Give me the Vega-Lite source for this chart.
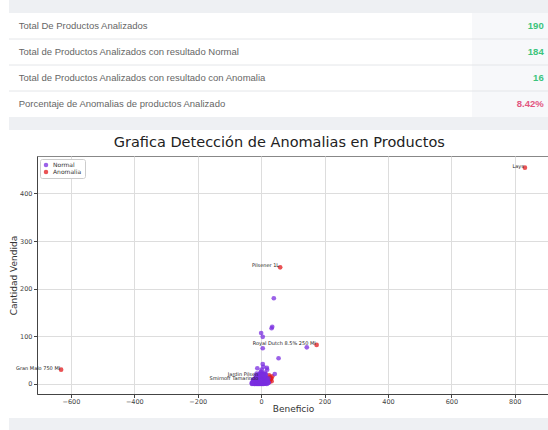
{
  "$schema": "https://vega.github.io/schema/vega-lite/v6.json",
  "background": "white",
  "padding": {"left": 8, "top": 0, "right": 0, "bottom": 0},
  "spacing": 4,
  "resolve": {"scale": {"x": "independent", "y": "independent", "color": "independent"}},
  "config": {
    "view": {"stroke": null},
    "axis": {"labelFont": "DejaVu Sans", "labelFontSize": 6.5, "labelColor": "#444", "titleFont": "DejaVu Sans", "titleFontSize": 9, "titleFontWeight": "normal", "titleColor": "#333", "gridColor": "#dddddd", "tickColor": "#444", "domainColor": "#444", "tickSize": 3.5, "labelPadding": 1.5}
  },
  "datasets": {
    "resumen": [
      {"i": 0, "label": "Total De Productos Analizados", "valor": "190", "estado": "ok"},
      {"i": 1, "label": "Total de Productos Analizados con resultado Normal", "valor": "184", "estado": "ok"},
      {"i": 2, "label": "Total de Productos Analizados con resultado con Anomalia", "valor": "16", "estado": "ok"},
      {"i": 3, "label": "Porcentaje de Anomalias de productos Analizado", "valor": "8.42%", "estado": "alerta"}
    ],
    "productos": [
      {"x": 832, "y": 454, "t": "Anomalia", "p": "Lays"},
      {"x": 60, "y": 245, "t": "Anomalia", "p": "Pilsener 1L"},
      {"x": 175, "y": 82, "t": "Anomalia", "p": "Royal Dutch 8.5% 250 Ml"},
      {"x": -631, "y": 30, "t": "Anomalia", "p": "Gran Malo 750 Ml"},
      {"x": -6, "y": 16, "t": "Anomalia", "p": "Jardin Pilsen"},
      {"x": -6, "y": 9, "t": "Anomalia", "p": "Smirnoff Tamarindo"},
      {"x": 25, "y": 18, "t": "Anomalia"},
      {"x": 28, "y": 14, "t": "Anomalia"},
      {"x": 30, "y": 10, "t": "Anomalia"},
      {"x": 27, "y": 8, "t": "Anomalia"},
      {"x": 32, "y": 12, "t": "Anomalia"},
      {"x": 22, "y": 6, "t": "Anomalia"},
      {"x": 35, "y": 16, "t": "Anomalia"},
      {"x": 20, "y": 12, "t": "Anomalia"},
      {"x": 26, "y": 4, "t": "Anomalia"},
      {"x": 33, "y": 6, "t": "Anomalia"},
      {"x": 0, "y": 107, "t": "Normal"}, {"x": 5, "y": 99, "t": "Normal"}, {"x": 33, "y": 117, "t": "Normal"}, {"x": 35, "y": 120, "t": "Normal"},
      {"x": 40, "y": 180, "t": "Normal"}, {"x": 5, "y": 75, "t": "Normal"}, {"x": 144, "y": 77, "t": "Normal"}, {"x": 55, "y": 54, "t": "Normal"},
      {"x": 5, "y": 42, "t": "Normal"}, {"x": 7, "y": 36, "t": "Normal"}, {"x": -12, "y": 33, "t": "Normal"}, {"x": 18, "y": 34, "t": "Normal"},
      {"x": 43, "y": 21, "t": "Normal"}, {"x": -2, "y": 24, "t": "Normal"}, {"x": 19, "y": 30, "t": "Normal"}, {"x": 0, "y": 26, "t": "Normal"},
      {"x": -28, "y": 1, "t": "Normal"}, {"x": -25, "y": 1, "t": "Normal"}, {"x": -22, "y": 0, "t": "Normal"}, {"x": -20, "y": 1, "t": "Normal"},
      {"x": -18, "y": 2, "t": "Normal"}, {"x": -16, "y": 0, "t": "Normal"}, {"x": -14, "y": 1, "t": "Normal"}, {"x": -12, "y": 0, "t": "Normal"},
      {"x": -10, "y": 1, "t": "Normal"}, {"x": -8, "y": 0, "t": "Normal"}, {"x": -6, "y": 1, "t": "Normal"}, {"x": -4, "y": 0, "t": "Normal"},
      {"x": -2, "y": 1, "t": "Normal"}, {"x": 0, "y": 0, "t": "Normal"}, {"x": 2, "y": 1, "t": "Normal"}, {"x": 4, "y": 0, "t": "Normal"},
      {"x": 6, "y": 1, "t": "Normal"}, {"x": 8, "y": 0, "t": "Normal"}, {"x": 10, "y": 1, "t": "Normal"}, {"x": 12, "y": 2, "t": "Normal"},
      {"x": 15, "y": 1, "t": "Normal"}, {"x": 18, "y": 0, "t": "Normal"},
      {"x": -27, "y": 3, "t": "Normal"}, {"x": -24, "y": 3, "t": "Normal"}, {"x": -21, "y": 4, "t": "Normal"}, {"x": -17, "y": 3, "t": "Normal"},
      {"x": -13, "y": 3, "t": "Normal"}, {"x": -9, "y": 4, "t": "Normal"}, {"x": -5, "y": 3, "t": "Normal"}, {"x": -1, "y": 3, "t": "Normal"},
      {"x": 3, "y": 4, "t": "Normal"}, {"x": 7, "y": 3, "t": "Normal"}, {"x": 11, "y": 3, "t": "Normal"}, {"x": 14, "y": 4, "t": "Normal"},
      {"x": 17, "y": 3, "t": "Normal"},
      {"x": -26, "y": 5, "t": "Normal"}, {"x": -23, "y": 6, "t": "Normal"}, {"x": -19, "y": 5, "t": "Normal"}, {"x": -15, "y": 6, "t": "Normal"},
      {"x": -11, "y": 5, "t": "Normal"}, {"x": -7, "y": 6, "t": "Normal"}, {"x": -3, "y": 5, "t": "Normal"}, {"x": 1, "y": 6, "t": "Normal"},
      {"x": 5, "y": 5, "t": "Normal"}, {"x": 9, "y": 6, "t": "Normal"}, {"x": 13, "y": 5, "t": "Normal"}, {"x": 16, "y": 6, "t": "Normal"},
      {"x": 21, "y": 5, "t": "Normal"},
      {"x": -25, "y": 7, "t": "Normal"}, {"x": -20, "y": 8, "t": "Normal"}, {"x": -16, "y": 7, "t": "Normal"}, {"x": -12, "y": 8, "t": "Normal"},
      {"x": -8, "y": 7, "t": "Normal"}, {"x": -4, "y": 8, "t": "Normal"}, {"x": 0, "y": 7, "t": "Normal"}, {"x": 4, "y": 8, "t": "Normal"},
      {"x": 8, "y": 7, "t": "Normal"}, {"x": 12, "y": 8, "t": "Normal"}, {"x": 19, "y": 7, "t": "Normal"},
      {"x": -22, "y": 9, "t": "Normal"}, {"x": -18, "y": 10, "t": "Normal"}, {"x": -14, "y": 9, "t": "Normal"}, {"x": -10, "y": 10, "t": "Normal"},
      {"x": -6, "y": 9, "t": "Normal"}, {"x": -2, "y": 10, "t": "Normal"}, {"x": 2, "y": 9, "t": "Normal"}, {"x": 6, "y": 10, "t": "Normal"},
      {"x": 10, "y": 9, "t": "Normal"}, {"x": 15, "y": 10, "t": "Normal"},
      {"x": -19, "y": 11, "t": "Normal"}, {"x": -15, "y": 12, "t": "Normal"}, {"x": -11, "y": 11, "t": "Normal"}, {"x": -7, "y": 12, "t": "Normal"},
      {"x": -3, "y": 11, "t": "Normal"}, {"x": 1, "y": 12, "t": "Normal"}, {"x": 5, "y": 11, "t": "Normal"}, {"x": 9, "y": 12, "t": "Normal"},
      {"x": 14, "y": 11, "t": "Normal"},
      {"x": -16, "y": 13, "t": "Normal"}, {"x": -12, "y": 14, "t": "Normal"}, {"x": -8, "y": 13, "t": "Normal"}, {"x": -4, "y": 14, "t": "Normal"},
      {"x": 0, "y": 13, "t": "Normal"}, {"x": 4, "y": 14, "t": "Normal"}, {"x": 8, "y": 13, "t": "Normal"}, {"x": 12, "y": 14, "t": "Normal"},
      {"x": -13, "y": 15, "t": "Normal"}, {"x": -9, "y": 16, "t": "Normal"}, {"x": -5, "y": 15, "t": "Normal"}, {"x": -1, "y": 16, "t": "Normal"},
      {"x": 3, "y": 15, "t": "Normal"}, {"x": 7, "y": 16, "t": "Normal"}, {"x": 11, "y": 15, "t": "Normal"},
      {"x": -10, "y": 18, "t": "Normal"}, {"x": -4, "y": 17, "t": "Normal"}, {"x": 2, "y": 18, "t": "Normal"}, {"x": 6, "y": 19, "t": "Normal"},
      {"x": 10, "y": 18, "t": "Normal"},
      {"x": -6, "y": 21, "t": "Normal"}, {"x": 0, "y": 20, "t": "Normal"}, {"x": 4, "y": 22, "t": "Normal"}, {"x": 9, "y": 21, "t": "Normal"},
      {"x": 13, "y": 20, "t": "Normal"},
      {"x": -23, "y": 2, "t": "Normal"}, {"x": -19, "y": 2, "t": "Normal"}, {"x": -15, "y": 2, "t": "Normal"}, {"x": -11, "y": 2, "t": "Normal"},
      {"x": -7, "y": 2, "t": "Normal"}, {"x": -3, "y": 2, "t": "Normal"}, {"x": 1, "y": 2, "t": "Normal"}, {"x": 5, "y": 2, "t": "Normal"},
      {"x": 9, "y": 2, "t": "Normal"}, {"x": 13, "y": 2, "t": "Normal"}, {"x": 16, "y": 2, "t": "Normal"},
      {"x": -25, "y": 4, "t": "Normal"}, {"x": -18, "y": 4, "t": "Normal"}, {"x": -10, "y": 4, "t": "Normal"}, {"x": -2, "y": 4, "t": "Normal"},
      {"x": 6, "y": 4, "t": "Normal"}, {"x": 10, "y": 4, "t": "Normal"}, {"x": 15, "y": 4, "t": "Normal"}, {"x": 20, "y": 4, "t": "Normal"},
      {"x": -21, "y": 6, "t": "Normal"}, {"x": -13, "y": 6, "t": "Normal"}, {"x": -5, "y": 6, "t": "Normal"}, {"x": 3, "y": 6, "t": "Normal"},
      {"x": 11, "y": 6, "t": "Normal"}, {"x": 17, "y": 6, "t": "Normal"},
      {"x": -24, "y": 8, "t": "Normal"}, {"x": -17, "y": 8, "t": "Normal"}, {"x": -9, "y": 8, "t": "Normal"}, {"x": -1, "y": 8, "t": "Normal"},
      {"x": 7, "y": 8, "t": "Normal"}, {"x": 13, "y": 8, "t": "Normal"},
      {"x": -20, "y": 10, "t": "Normal"}, {"x": -12, "y": 10, "t": "Normal"}, {"x": -4, "y": 10, "t": "Normal"}, {"x": 4, "y": 10, "t": "Normal"},
      {"x": 12, "y": 10, "t": "Normal"}, {"x": 18, "y": 10, "t": "Normal"},
      {"x": -14, "y": 12, "t": "Normal"}, {"x": -6, "y": 12, "t": "Normal"}, {"x": 2, "y": 12, "t": "Normal"}, {"x": 10, "y": 12, "t": "Normal"},
      {"x": 16, "y": 12, "t": "Normal"},
      {"x": -10, "y": 14, "t": "Normal"}, {"x": -2, "y": 14, "t": "Normal"}, {"x": 6, "y": 14, "t": "Normal"}, {"x": 14, "y": 14, "t": "Normal"},
      {"x": -7, "y": 16, "t": "Normal"}, {"x": 1, "y": 16, "t": "Normal"}, {"x": 9, "y": 16, "t": "Normal"},
      {"x": -2, "y": 19, "t": "Normal"}, {"x": 3, "y": 19, "t": "Normal"}, {"x": 8, "y": 19, "t": "Normal"},
      {"x": -30, "y": 2, "t": "Normal"}, {"x": -29, "y": 0, "t": "Normal"}, {"x": 22, "y": 2, "t": "Normal"}, {"x": 24, "y": 3, "t": "Normal"},
      {"x": -26, "y": 9, "t": "Normal"}, {"x": 20, "y": 8, "t": "Normal"}, {"x": 23, "y": 12, "t": "Normal"}, {"x": -17, "y": 17, "t": "Normal"},
      {"x": 15, "y": 20, "t": "Normal"}, {"x": -14, "y": 22, "t": "Normal"}, {"x": 12, "y": 24, "t": "Normal"}, {"x": 2, "y": 30, "t": "Normal"}
    ]
  },
  "vconcat": [
    {
      "width": 512,
      "height": 130,
      "view": {"fill": null, "stroke": null},
      "layer": [
        {
          "data": {"values": [{}]},
          "mark": {"type": "rect", "color": "#eef0f3"},
          "encoding": {
            "x": {"datum": -0.0547, "type": "quantitative", "scale": {"domain": [0, 1], "nice": false, "zero": false}, "axis": null},
            "x2": {"datum": 1}
          }
        },
        {
          "data": {"name": "resumen"},
          "mark": {"type": "rect", "color": "white"},
          "encoding": {
            "y": {"field": "i", "type": "ordinal", "scale": {"paddingInner": 0, "paddingOuter": 0.5}, "axis": null},
            "x": {"datum": -0.0547, "type": "quantitative"},
            "x2": {"datum": 1}
          }
        },
        {
          "data": {"name": "resumen"},
          "mark": {"type": "rect", "color": "#f7f8fa"},
          "encoding": {
            "y": {"field": "i", "type": "ordinal"},
            "x": {"datum": 0.8496, "type": "quantitative"},
            "x2": {"datum": 1}
          }
        },
        {
          "data": {"name": "resumen"},
          "transform": [{"filter": "datum.i > 0"}],
          "mark": {"type": "rule", "color": "#e4e6e9", "strokeWidth": 1},
          "encoding": {
            "y": {"field": "i", "type": "ordinal", "bandPosition": 0},
            "x": {"datum": -0.0547, "type": "quantitative"},
            "x2": {"datum": 1}
          }
        },
        {
          "data": {"name": "resumen"},
          "mark": {"type": "text", "align": "left", "baseline": "middle", "font": "Liberation Sans", "fontSize": 9.5, "color": "#666666"},
          "encoding": {
            "y": {"field": "i", "type": "ordinal"},
            "x": {"datum": -0.0357, "type": "quantitative"},
            "text": {"field": "label"}
          }
        },
        {
          "data": {"name": "resumen"},
          "mark": {"type": "text", "align": "right", "baseline": "middle", "font": "Liberation Sans", "fontSize": 9.5, "fontWeight": "bold"},
          "encoding": {
            "y": {"field": "i", "type": "ordinal"},
            "x": {"datum": 0.9896, "type": "quantitative"},
            "text": {"field": "valor"},
            "color": {"field": "estado", "type": "nominal", "scale": {"domain": ["ok", "alerta"], "range": ["#3cc47c", "#e2557f"]}, "legend": null}
          }
        }
      ]
    },
    {
      "width": 512,
      "height": 238,
      "view": {"fill": "white", "stroke": "#888888"},
      "title": {"text": "Grafica Detección de Anomalias en Productos", "font": "DejaVu Sans", "fontSize": 14.5, "fontWeight": "normal", "color": "#222222", "anchor": "middle", "frame": "bounds", "offset": 6},
      "data": {"name": "productos"},
      "layer": [
        {
          "mark": {"type": "circle", "size": 22, "opacity": 0.75},
          "encoding": {
            "x": {"field": "x", "type": "quantitative", "scale": {"domain": [-707, 908], "nice": false, "zero": false},
              "axis": {"values": [-600, -400, -200, 0, 200, 400, 600, 800], "title": "Beneficio", "titlePadding": -0.5, "labelPadding": 0.5}},
            "y": {"field": "y", "type": "quantitative", "scale": {"domain": [-21, 478.6], "nice": false, "zero": false},
              "axis": {"values": [0, 100, 200, 300, 400], "title": "Cantidad Vendida", "titlePadding": 1}},
            "color": {"field": "t", "type": "nominal", "scale": {"domain": ["Normal", "Anomalia"], "range": ["#7a2ee0", "#e31a1c"]},
              "legend": {"title": null, "orient": "top-left", "offset": 3, "padding": 3, "fillColor": "white", "strokeColor": "#cccccc", "cornerRadius": 2, "labelFont": "DejaVu Sans", "labelFontSize": 6, "labelColor": "#333333", "symbolSize": 20, "symbolType": "circle", "rowPadding": 1}}
          }
        },
        {
          "transform": [{"filter": "datum.p"}],
          "mark": {"type": "text", "align": "right", "baseline": "alphabetic", "font": "DejaVu Sans", "fontSize": 5, "color": "#222222", "dx": -1},
          "encoding": {
            "x": {"field": "x", "type": "quantitative"},
            "y": {"field": "y", "type": "quantitative"},
            "text": {"field": "p"}
          }
        }
      ]
    },
    {
      "width": 512,
      "height": 13,
      "view": {"fill": null, "stroke": null},
      "data": {"values": [{}]},
      "mark": {"type": "rect", "color": "#eef0f3"},
      "encoding": {
        "x": {"datum": -0.0547, "type": "quantitative", "scale": {"domain": [0, 1], "nice": false, "zero": false}, "axis": null},
        "x2": {"datum": 1}
      }
    }
  ]
}
